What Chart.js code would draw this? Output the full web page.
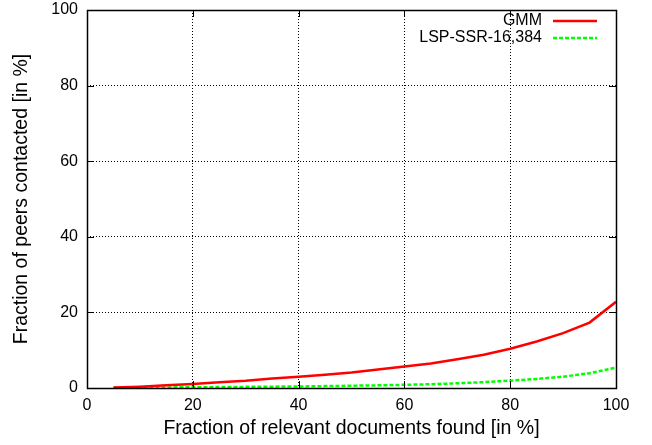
<!DOCTYPE html>
<html><head><meta charset="utf-8">
<script src="https://cdn.jsdelivr.net/npm/chart.js@4/dist/chart.umd.min.js"></script>
<style>html,body{margin:0;padding:0;background:#fff}#wrap{width:652px;height:445px}</style>
</head><body><div id="wrap"><canvas id="c" width="652" height="445"></canvas></div>
<script>
const xValues = [5,10,15,20,25,30,35,40,45,50,55,60,65,70,75,80,85,90,95,100];
const gmm = [0.1,0.35,0.7,1.05,1.5,1.9,2.5,3.0,3.5,4.1,4.9,5.7,6.5,7.6,8.8,10.4,12.3,14.5,17.3,22.8];
const lsp = [0.05,0.1,0.15,0.2,0.25,0.3,0.35,0.4,0.5,0.6,0.7,0.85,1.0,1.25,1.55,1.95,2.4,3.0,3.9,5.4];
const seriesNames = ['GMM','LSP-SSR-16,384'];
const xTicks = [0,20,40,60,80,100];
const yTicks = [0,20,40,60,80,100];
const FONT = "'Liberation Sans', Arial, sans-serif";

const framePlugin = {
  id:'frame',
  afterDatasetsDraw(chart){
    const {ctx, chartArea:a, scales:{x,y}} = chart;
    ctx.save();
    ctx.strokeStyle='#000'; ctx.lineWidth=1; ctx.setLineDash([]);
    ctx.beginPath();
    xTicks.forEach(v=>{const p=Math.round(x.getPixelForValue(v))+0.5;
      ctx.moveTo(p,a.bottom);ctx.lineTo(p,a.bottom-7);ctx.moveTo(p,a.top);ctx.lineTo(p,a.top+7);});
    yTicks.forEach(v=>{const p=Math.round(y.getPixelForValue(v))+0.5;
      ctx.moveTo(a.left,p);ctx.lineTo(a.left+7,p);ctx.moveTo(a.right,p);ctx.lineTo(a.right-7,p);});
    ctx.stroke();
    ctx.lineWidth=1.5;
    ctx.strokeRect(Math.round(a.left)+0.5,Math.round(a.top)+0.5,Math.round(a.right-a.left),Math.round(a.bottom-a.top));
    // legend
    ctx.font='16px '+FONT; ctx.textAlign='right'; ctx.textBaseline='middle'; ctx.fillStyle='#000';
    const ds = chart.data.datasets;
    ds.forEach((d,i)=>{
      const yy = a.top + 11 + i*17;
      ctx.fillText(d.label, a.right-74, yy);
      ctx.strokeStyle=d.borderColor; ctx.lineWidth=2.5; ctx.setLineDash(d.borderDash||[]);
      ctx.beginPath(); ctx.moveTo(a.right-63,yy); ctx.lineTo(a.right-19,yy); ctx.stroke();
    });
    ctx.restore();
  }
};

function zeroPad(s){s.paddingTop=0;s.paddingBottom=0;s.paddingLeft=0;s.paddingRight=0;}

new Chart(document.getElementById('c'),{
  type:'line',
  data:{datasets:[
    {label:seriesNames[0],data:xValues.map((v,i)=>({x:v,y:gmm[i]})),borderColor:'#ff0000',borderWidth:2.5,pointRadius:0,tension:0,fill:false},
    {label:seriesNames[1],data:xValues.map((v,i)=>({x:v,y:lsp[i]})),borderColor:'#00ff00',borderWidth:2.5,borderDash:[4,2],pointRadius:0,tension:0,fill:false}
  ]},
  options:{
    responsive:false,animation:false,
    layout:{padding:{top:10,right:36,left:0,bottom:0}},
    plugins:{legend:{display:false},tooltip:{enabled:false}},
    scales:{
      x:{type:'linear',min:0,max:100,
        afterBuildTicks(s){s.ticks=xTicks.map(v=>({value:v}));},
        afterFit(s){s.height=57;zeroPad(s);},
        grid:{color:'#000',lineWidth:1,tickLength:0,drawTicks:false},
        border:{display:false,dash:[1,2]},
        ticks:{color:'#000',font:{family:FONT,size:16},padding:8,maxRotation:0},
        title:{display:true,text:'Fraction of relevant documents found [in %]',color:'#000',font:{family:FONT,size:19.5},padding:{top:0,bottom:5}}
      },
      y:{type:'linear',min:0,max:100,
        afterBuildTicks(s){s.ticks=yTicks.map(v=>({value:v}));},
        afterFit(s){s.width=87;zeroPad(s);},
        grid:{color:'#000',lineWidth:1,tickLength:0,drawTicks:false},
        border:{display:false,dash:[1,2]},
        ticks:{color:'#000',font:{family:FONT,size:16},padding:9},
        title:{display:true,text:'Fraction of peers contacted [in %]',color:'#000',font:{family:FONT,size:19.5},padding:{top:10,bottom:0}}
      }
    }
  },
  plugins:[framePlugin]
});
</script></body></html>
